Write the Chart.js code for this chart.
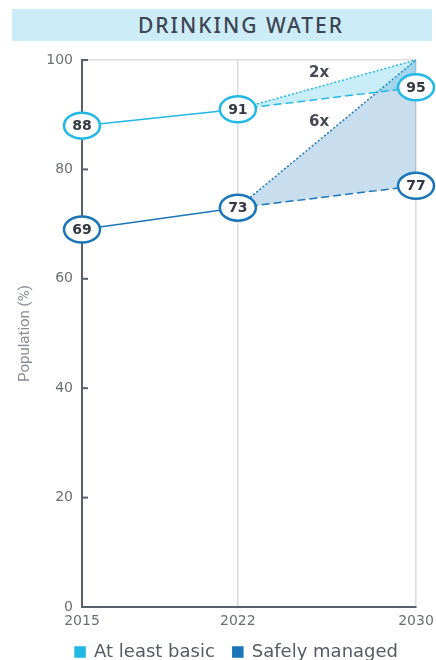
<!DOCTYPE html>
<html>
<head>
<meta charset="utf-8">
<script src="https://cdn.jsdelivr.net/npm/chart.js@4.4.1/dist/chart.umd.min.js"></script>
<style>
  body { margin: 0; background: #fff; }
  #wrap { position: relative; width: 436px; height: 660px; }
  #title {
    position: absolute; left: 12px; top: 9px; width: 420px; height: 32px;
    background: #ccedf8; color: #3d4452; text-align: center;
    font: 500 21px "Noto Sans", sans-serif; line-height: 32px; letter-spacing: 2px;
    box-sizing: border-box; padding-left: 38px;
  }
  #myChart { position: absolute; left: 0; top: 0; }
</style>
</head>
<body>
<div id="wrap">
  <canvas id="myChart" width="436" height="660"></canvas>
  <div id="title">DRINKING WATER</div>
</div>
<script>
// Data
let years = [2015, 2022, 2030];
let seriesNames = ['At least basic', 'Safely managed'];
let basicActual = [88, 91];      // 2015, 2022
let basicProjected = [91, 95];   // 2022, 2030
let basicTarget = [91, 100];     // 2022, 2030
let safeActual = [69, 73];       // 2015, 2022
let safeProjected = [73, 77];    // 2022, 2030
let safeTarget = [73, 100];      // 2022, 2030
let yTicks = [0, 20, 40, 60, 80, 100];
let notes = [
  { text: '2x', x: 2025.65, y: 97.6 },
  { text: '6x', x: 2025.65, y: 88.6 }
];

let basicColor = '#21b8e6';
let safeColor = '#1b76b8';
let axisColor = '#5a5f6b';
let tickFont = 'DejaVu Sans';

function pts(xs, ys) {
  return ys.map((v, i) => ({ x: xs[i], y: v }));
}

let actualYears = [years[0], years[1]];
let futureYears = [years[1], years[2]];

// Circled value labels, multiplier notes and inward axis ticks
let markers = {
  id: 'markers',
  afterDatasetsDraw(chart) {
    let ctx = chart.ctx;
    let x = chart.scales.x, y = chart.scales.y;
    ctx.save();

    // small inward ticks on the y axis
    ctx.strokeStyle = axisColor;
    ctx.lineWidth = 2;
    y.ticks.forEach(t => {
      let py = y.getPixelForValue(t.value);
      ctx.beginPath();
      ctx.moveTo(x.left, py);
      ctx.lineTo(x.left + 6, py);
      ctx.stroke();
    });

    // multiplier notes
    ctx.fillStyle = '#454a55';
    ctx.font = 'bold 15px ' + tickFont;
    ctx.textAlign = 'center';
    ctx.textBaseline = 'middle';
    notes.forEach(n => {
      ctx.fillText(n.text, x.getPixelForValue(n.x), y.getPixelForValue(n.y));
    });

    // circled values
    chart.data.datasets.forEach(ds => {
      if (!ds.circles) return;
      ds.circles.forEach(i => {
        let p = ds.data[i];
        let px = x.getPixelForValue(p.x);
        let py = y.getPixelForValue(p.y);
        ctx.beginPath();
        ctx.ellipse(px, py, 18, 13, 0, 0, Math.PI * 2);
        ctx.fillStyle = '#fff';
        ctx.fill();
        ctx.lineWidth = 2.5;
        ctx.strokeStyle = ds.borderColor;
        ctx.stroke();
        ctx.fillStyle = '#333842';
        ctx.font = 'bold 14px ' + tickFont;
        ctx.fillText(String(p.y), px, py + 1);
      });
    });
    ctx.restore();
  }
};

let chart = new Chart(document.getElementById('myChart').getContext('2d'), {
  type: 'line',
  data: {
    datasets: [
      {
        label: seriesNames[0],
        data: pts(actualYears, basicActual),
        borderColor: basicColor,
        backgroundColor: basicColor,
        borderWidth: 1.5,
        circles: [0, 1]
      },
      {
        label: seriesNames[0] + ' projected',
        data: pts(futureYears, basicProjected),
        borderColor: basicColor,
        borderWidth: 1.5,
        borderDash: [8, 4],
        circles: [1]
      },
      {
        label: seriesNames[0] + ' target',
        data: pts(futureYears, basicTarget),
        borderColor: basicColor,
        borderWidth: 1.5,
        borderDash: [2, 2],
        fill: '-1',
        backgroundColor: 'rgba(33, 184, 230, 0.24)'
      },
      {
        label: seriesNames[1],
        data: pts(actualYears, safeActual),
        borderColor: safeColor,
        backgroundColor: safeColor,
        borderWidth: 1.5,
        circles: [0, 1]
      },
      {
        label: seriesNames[1] + ' projected',
        data: pts(futureYears, safeProjected),
        borderColor: safeColor,
        borderWidth: 1.5,
        borderDash: [8, 4],
        circles: [1]
      },
      {
        label: seriesNames[1] + ' target',
        data: pts(futureYears, safeTarget),
        borderColor: safeColor,
        borderWidth: 1.5,
        borderDash: [2, 2],
        fill: '-1',
        backgroundColor: 'rgba(27, 118, 184, 0.24)'
      }
    ]
  },
  options: {
    responsive: false,
    animation: false,
    clip: false,
    elements: { point: { radius: 0 }, line: { tension: 0 } },
    layout: { padding: { top: 60, right: 20, left: 16, bottom: -11 } },
    plugins: {
      tooltip: { enabled: false },
      legend: {
        position: 'bottom',
        align: 'end',
        labels: {
          color: '#555a63',
          font: { family: tickFont, size: 18 },
          boxWidth: 10,
          boxHeight: 10,
          padding: 18,
          filter: item => item.datasetIndex === 0 || item.datasetIndex === 3
        }
      }
    },
    scales: {
      x: {
        type: 'linear',
        min: years[0],
        max: years[years.length - 1],
        afterBuildTicks: s => { s.ticks = years.map(v => ({ value: v })); },
        afterFit: s => { s.height = 18; s.paddingLeft = 0; s.paddingRight = 0; },
        ticks: {
          color: '#6b6e75',
          font: { family: tickFont, size: 14 },
          padding: 6,
          maxRotation: 0,
          autoSkip: false,
          callback: v => String(v)
        },
        grid: {
          drawTicks: false,
          lineWidth: 1.5,
          color: c => (c.tick && c.tick.value === years[0]) ? 'rgba(0,0,0,0)' : '#dcdcdc'
        },
        border: { color: axisColor, width: 2 }
      },
      y: {
        min: 0,
        max: 100,
        afterBuildTicks: s => { s.ticks = yTicks.map(v => ({ value: v })); },
        afterFit: s => { s.width = 66; },
        ticks: {
          color: '#6b6e75',
          font: { family: tickFont, size: 14 },
          padding: 9
        },
        grid: {
          drawTicks: false,
          lineWidth: 1.5,
          color: c => (c.tick && c.tick.value === 100) ? '#dcdcdc' : 'rgba(0,0,0,0)'
        },
        border: { color: axisColor, width: 2 },
        title: {
          display: true,
          text: 'Population (%)',
          color: '#888b92',
          font: { family: 'Roboto', size: 15 },
          padding: 0
        }
      }
    }
  },
  plugins: [markers]
});
</script>
</body>
</html>
